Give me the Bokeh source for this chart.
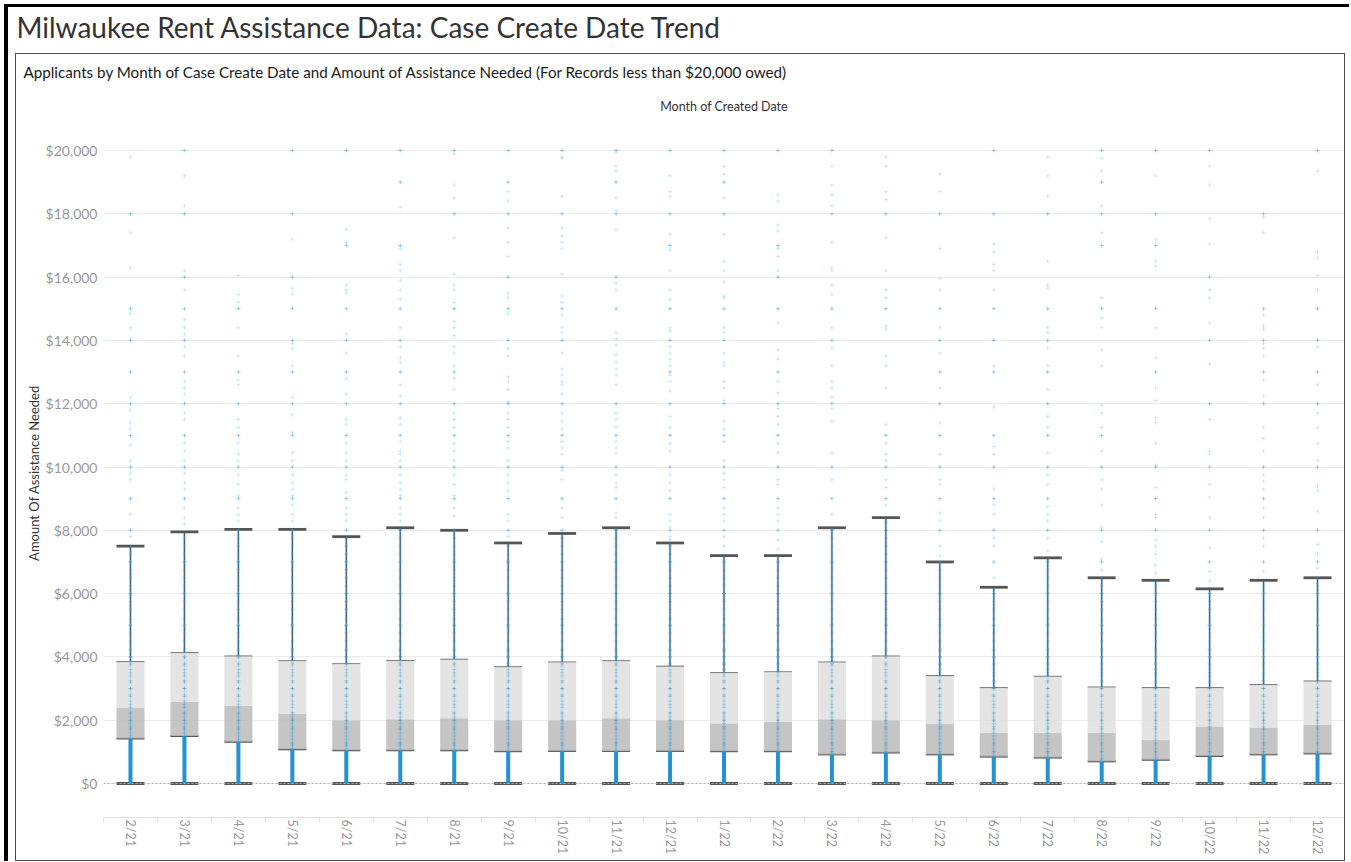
from bokeh.plotting import figure
from bokeh.models import (ColumnDataSource, FixedTicker, NumeralTickFormatter, Span,
                          Title, Range1d, Whisker, TeeHead, Spacer)
from bokeh.layouts import column, row
from bokeh.embed import file_html
from bokeh.resources import INLINE

FONT = "Lato"

MONTHS = ["2/21", "3/21", "4/21", "5/21", "6/21", "7/21", "8/21", "9/21", "10/21", "11/21",
          "12/21", "1/22", "2/22", "3/22", "4/22", "5/22", "6/22", "7/22", "8/22", "9/22",
          "10/22", "11/22", "12/22"]
WHISKER_LOW = [0, 0, 0, 0, 0, 0, 0, 0, 0, 0, 0, 0, 0, 0, 0, 0, 0, 0, 0, 0, 0, 0, 0]
Q1 = [1420, 1500, 1320, 1080, 1050, 1050, 1050, 1020, 1030, 1030, 1030, 1020, 1020,
      920, 980, 920, 850, 820, 700, 750, 870, 920, 950]
MEDIAN = [2400, 2580, 2450, 2200, 2000, 2030, 2060, 2000, 2000, 2060, 2000, 1900, 1950,
          2030, 2000, 1880, 1600, 1600, 1600, 1380, 1800, 1770, 1850]
Q3 = [3850, 4130, 4020, 3870, 3780, 3880, 3920, 3680, 3830, 3870, 3700, 3500, 3520,
      3830, 4020, 3400, 3020, 3380, 3040, 3020, 3020, 3120, 3230]
WHISKER_HIGH = [7500, 7950, 8030, 8030, 7800, 8080, 8000, 7600, 7900, 8080, 7600, 7200, 7200,
                8080, 8400, 7000, 6200, 7130, 6500, 6420, 6150, 6420, 6500]

# frequently requested amounts seen inside the whisker range of every month
COMMON_AMOUNTS = [0, 150, 300, 450, 500, 600, 750, 800, 900, 1000, 1100, 1200, 1250, 1300,
                  1400, 1500, 1600, 1700, 1750, 1800, 1900, 2000, 2100, 2200, 2250, 2400,
                  2500, 2600, 2750, 2800, 3000, 3200, 3250, 3400, 3500, 3600, 3750, 3800,
                  4000, 4200, 4250, 4500, 4750, 5000, 5200, 5500, 5750, 6000, 6250, 6500,
                  6750, 7000, 7250, 7500, 7750, 8000, 8250]

PTS_2_21 = [19800, 18000, 17400, 16300, 15000, 14850, 14400, 14000, 13000, 12200, 12000, 11800,
            11400, 11200, 11000, 10700, 10200, 10000, 9800, 9600, 9000, 8500, 8000, 7800]
PTS_3_21 = [20000, 19200, 18250, 18000, 16200, 16000, 15600, 15000, 14650, 14400, 14200, 14000,
            13800, 13500, 13000, 12700, 12500, 12300, 12000, 11700, 11500, 11000, 10750, 10500,
            10200, 10000, 9800, 9500, 9300, 9000, 8700, 8400, 8200]
PTS_4_21 = [16050, 15450, 15200, 15000, 14400, 13500, 13000, 12750, 12600, 12000, 11500, 11250,
            11000, 10750, 10400, 10200, 10000, 9750, 9450, 9100, 9000, 8700, 8500, 8300]
PTS_5_21 = [20000, 18000, 17200, 16000, 15650, 15450, 15000, 14000, 13900, 13750, 13200, 13000,
            12200, 12000, 11650, 11100, 11000, 10450, 10200, 10000, 9750, 9500, 9300, 9100,
            9000, 8800, 8500, 8300]
PTS_6_21 = [20000, 17500, 17100, 17000, 15750, 15600, 15500, 15000, 14200, 14000, 13600, 13000,
            12800, 12300, 12000, 11500, 11350, 11000, 10750, 10450, 10200, 10000, 9750, 9600,
            9200, 9000, 8700, 8500, 8300, 8000]
PTS_7_21 = [20000, 19000, 18200, 17000, 16900, 16400, 16200, 15900, 15600, 15300, 15000, 14400,
            14000, 13800, 13450, 13300, 13000, 12600, 12250, 12000, 11550, 11350, 11000, 10800,
            10500, 10400, 10200, 10000, 9750, 9500, 9300, 9100, 9000, 8700, 8500, 8300]
PTS_8_21 = [20000, 19900, 18900, 18500, 18000, 17250, 16100, 15750, 15600, 15200, 15000, 14600,
            14400, 14150, 13800, 13600, 13200, 13000, 12800, 12450, 12000, 11700, 11500, 11250,
            11000, 10750, 10500, 10200, 10000, 9750, 9450, 9100, 9000, 8700, 8450]
PTS_9_21 = [20000, 19000, 18700, 18400, 18000, 17550, 17100, 16650, 16000, 15500, 15350, 15000,
            14850, 14000, 13750, 13500, 12850, 12700, 12450, 12050, 12000, 11700, 11500, 11250,
            11000, 10800, 10600, 10200, 10000, 9750, 9500, 9250, 9000, 8500, 8300, 8000, 7800]
PTS_10_21 = [20000, 19800, 19750, 18550, 18000, 17550, 17300, 17100, 16900, 16100, 15400, 15200,
             15000, 14800, 14400, 14250, 14000, 13600, 13100, 12900, 12700, 12600, 12300, 12000,
             11700, 11450, 11200, 11000, 10800, 10600, 10400, 10000, 9900, 9600, 9000, 8700,
             8400, 8000]
PTS_11_21 = [20000, 19950, 19500, 19350, 19000, 18500, 18100, 18000, 17500, 16000, 15800, 15600,
             15000, 14250, 14050, 13850, 13550, 13300, 13100, 12900, 12600, 12000, 11700, 11500,
             11250, 11000, 10800, 10600, 10450, 10000, 9750, 9500, 9350, 9000, 8550, 8400]
PTS_12_21 = [20000, 19200, 18700, 18550, 18000, 17350, 17000, 16850, 16200, 15600, 15300, 15000,
             14400, 14300, 14000, 13800, 13600, 13400, 13200, 13000, 12900, 12700, 12400, 12000,
             11600, 11250, 11000, 10750, 10500, 10000, 9750, 9500, 9250, 9000, 8500, 8300, 8100,
             8000, 7800, 7700]
PTS_1_22 = [20000, 19500, 19250, 19000, 18500, 18000, 17350, 16500, 16200, 15850, 15400, 15350,
            15000, 14400, 14250, 14000, 13600, 13300, 13200, 12700, 12500, 12100, 12000, 11450,
            11200, 11000, 10800, 10200, 10000, 9800, 9600, 9350, 9000, 8700, 8500, 8300, 8000,
            7800, 7500]
PTS_2_22 = [20000, 18600, 18400, 17650, 17450, 17000, 16900, 16650, 16200, 16000, 15000, 14550,
            13700, 13400, 13000, 12700, 12350, 12000, 11850, 11600, 11350, 11000, 10750, 10450,
            10000, 9600, 9450, 9000, 8700, 8500, 8300, 8000, 7700, 7400]
PTS_3_22 = [20000, 19500, 18900, 18600, 18250, 18000, 17100, 16300, 16200, 15750, 15450, 15000,
            14400, 14000, 13750, 13200, 12700, 12500, 12200, 12000, 11850, 11450, 10450, 10000,
            9600, 9000, 8500]
PTS_4_22 = [19800, 19500, 18700, 18450, 18000, 17250, 16200, 15600, 15350, 15000, 14450, 14350,
            13500, 13200, 12500, 11350, 11000, 10750, 10400, 10200, 10000, 9600, 9350, 9000, 8800]
PTS_5_22 = [19250, 18700, 18000, 16900, 15950, 15600, 15000, 14400, 14000, 13600, 13000, 12500,
            12000, 11400, 11000, 10400, 10000, 9600, 9450, 9000, 8550, 8300, 8000, 7500, 7200]
PTS_6_22 = [20000, 18000, 17050, 16800, 16400, 16200, 15600, 15000, 14000, 13200, 13000, 11900,
            11000, 10650, 10400, 10000, 9300, 9000, 8800, 8500, 8000, 7750, 7500, 7000, 6500]
PTS_7_22 = [19800, 19200, 18550, 18000, 16500, 15750, 15650, 15000, 14400, 14250, 14000, 13750,
            13200, 13000, 12450, 12000, 11600, 11250, 11000, 10450, 10000, 9750, 9450, 9000,
            8750, 8500, 8300, 8000, 7750, 7350]
PTS_8_22 = [20000, 19750, 19350, 19000, 18250, 18000, 17400, 17000, 15350, 15000, 14700, 14400,
            13700, 13200, 11950, 11700, 11250, 11000, 10500, 10000, 9600, 9300, 8800, 8100, 8000,
            7650, 7100, 7000, 6750]
PTS_9_22 = [20000, 19200, 18000, 17200, 17000, 16500, 16350, 15000, 14400, 13450, 13000, 12500,
            12100, 11550, 11400, 10750, 10050, 10000, 9350, 9000, 8500, 8400, 8000, 7700, 7500,
            7250, 6900, 6650]
PTS_10_22 = [20000, 19500, 18900, 17850, 17050, 16000, 15600, 15350, 14550, 14000, 13250, 12000,
             11500, 10500, 10400, 10000, 9450, 9050, 8400, 8000, 7450, 7000, 6700, 6400]
PTS_11_22 = [18000, 17900, 17400, 15000, 14800, 14450, 14350, 14000, 13900, 13750, 13500, 13000,
             12750, 12250, 12000, 11250, 10900, 10500, 10000, 9750, 9550, 9300, 9000, 8700, 8400,
             8000, 7750, 7500, 7000, 6700]
PTS_12_22 = [20000, 19350, 16800, 16600, 16050, 15600, 15000, 14000, 13800, 13000, 12600, 12000,
             11700, 11250, 10750, 10200, 10000, 9400, 9250, 8600, 8000, 7550, 7250, 7000, 6800]

OUTLIER_LISTS = [PTS_2_21, PTS_3_21, PTS_4_21, PTS_5_21, PTS_6_21, PTS_7_21, PTS_8_21, PTS_9_21,
                 PTS_10_21, PTS_11_21, PTS_12_21, PTS_1_22, PTS_2_22, PTS_3_22, PTS_4_22,
                 PTS_5_22, PTS_6_22, PTS_7_22, PTS_8_22, PTS_9_22, PTS_10_22, PTS_11_22, PTS_12_22]

BLUE = "#1a8fd2"
DOT = "#2b9bdb"
DARK = "#555555"

idx = list(range(len(MONTHS)))
box_src = ColumnDataSource(dict(x=idx, q1=Q1, med=MEDIAN, q3=Q3, lo=WHISKER_LOW, hi=WHISKER_HIGH))

px, py, pa = [], [], []
for i, vals in enumerate(OUTLIER_LISTS):
    for v in vals:
        px.append(i)
        py.append(v)
        pa.append(0.45 if v % 1000 == 0 else 0.2)
out_src = ColumnDataSource(dict(x=px, y=py, a=pa))

ix, iy, ia = [], [], []
for i in idx:
    for v in COMMON_AMOUNTS:
        if v <= WHISKER_HIGH[i]:
            ix.append(i)
            iy.append(v)
            ia.append(0.6 if v % 1000 == 0 else 0.3)
in_src = ColumnDataSource(dict(x=ix, y=iy, a=ia))

p = figure(width=1330, height=808, toolbar_location=None, output_backend="svg",
           x_range=Range1d(-0.5, len(MONTHS) - 0.5), y_range=Range1d(-1074, 20695),
           min_border_left=87, min_border_right=2, min_border_top=74, min_border_bottom=45,
           styles={"border": "1px solid #4d4d4d"})
p.outline_line_color = None
p.xgrid.grid_line_color = None
p.ygrid.grid_line_color = "#ececec"
p.ygrid.grid_line_width = 1
p.ygrid.ticker = FixedTicker(ticks=list(range(0, 20001, 2000)))

p.title.text = "Applicants by Month of Case Create Date and Amount of Assistance Needed (For Records less than $20,000 owed)"
p.title.text_font = FONT
p.title.text_font_size = "15.2px"
p.title.text_font_style = "normal"
p.title.text_color = "#1a1a1a"
p.title.align = "left"
p.title.offset = -80
p.title.standoff = 4
p.add_layout(Title(text="Month of Created Date", text_font=FONT, text_font_size="12.5px",
                   text_font_style="normal", text_color="#333333", align="center",
                   standoff=29), "above")

# y axis
yax = p.yaxis[0]
yax.ticker = FixedTicker(ticks=list(range(0, 20001, 2000)))
yax.formatter = NumeralTickFormatter(format="$0,0")
yax.axis_line_color = None
yax.major_tick_line_color = None
yax.minor_tick_line_color = None
yax.major_tick_out = 0
yax.major_label_text_color = "#999999"
yax.major_label_text_font = FONT
yax.major_label_text_font_size = "14px"
yax.major_label_standoff = 6
yax.axis_label = "Amount Of Assistance Needed"
yax.axis_label_text_font = FONT
yax.axis_label_text_font_size = "13px"
yax.axis_label_text_font_style = "normal"
yax.axis_label_text_color = "#333333"
yax.axis_label_standoff = 1

# x axis
xax = p.xaxis[0]
xax.ticker = FixedTicker(ticks=idx, minor_ticks=[i - 0.5 for i in idx] + [len(MONTHS) - 0.5])
xax.major_label_overrides = {i: m for i, m in enumerate(MONTHS)}
xax.major_label_orientation = "vertical"
xax.major_tick_line_color = None
xax.major_tick_out = 0
xax.major_tick_in = 0
xax.minor_tick_out = 5
xax.minor_tick_in = 0
xax.minor_tick_line_color = "#e3e3e3"
xax.axis_line_color = "#e3e3e3"
xax.major_label_text_color = "#999999"
xax.major_label_text_font = FONT
xax.major_label_text_font_size = "12.5px"
xax.major_label_standoff = -3

# dense mass of applications below the lower quartile and along the whisker
p.segment(x0="x", x1="x", y0="lo", y1="q1", source=box_src, line_color=BLUE, line_width=4,
          line_alpha=0.95)
p.segment(x0="x", x1="x", y0="q1", y1="hi", source=box_src, line_color=BLUE, line_width=3,
          line_alpha=0.22)

# boxes
p.vbar(x="x", width=0.52, bottom="q1", top="med", source=box_src, fill_color="#bdbdbd",
       fill_alpha=0.88, line_color=None)
p.vbar(x="x", width=0.52, bottom="med", top="q3", source=box_src, fill_color="#e0e0e0",
       fill_alpha=0.88, line_color=None)

p.scatter(x="x", y="y", source=in_src, marker="cross", size=4, line_color=DOT,
          line_alpha="a", line_width=1)

zero = Span(location=0, dimension="width", line_color="#b5b5b5", line_dash="2 2", line_width=1)
p.add_layout(zero)

upper = Whisker(source=box_src, base="x", lower="q3", upper="hi", line_color=DARK, line_width=1.3,
                lower_head=TeeHead(size=28, line_color="#666666", line_width=1.5),
                upper_head=TeeHead(size=28, line_color=DARK, line_width=2.8))
lower = Whisker(source=box_src, base="x", lower="lo", upper="q1", line_color=DARK, line_width=1.1,
                lower_head=TeeHead(size=28, line_color=DARK, line_width=3.2),
                upper_head=TeeHead(size=28, line_color=DARK, line_width=2))
p.add_layout(upper)
p.add_layout(lower)

p.scatter(x="x", y="y", source=out_src, marker="cross", size=4, line_color=DOT,
          line_alpha="a", line_width=1)

# heading above the panel
head = figure(width=1337, height=43, toolbar_location=None, output_backend="svg",
              x_range=Range1d(0, 1), y_range=Range1d(0, 1),
              x_axis_location=None, y_axis_location=None,
              min_border_left=0, min_border_right=0, min_border_top=0, min_border_bottom=0)
head.grid.visible = False
head.outline_line_color = None
head.title.text = "Milwaukee Rent Assistance Data: Case Create Date Trend"
head.title.text_font = FONT
head.title.text_font_size = "28px"
head.title.text_font_style = "normal"
head.title.text_color = "#333333"
head.title.offset = 8
head.title.standoff = 0

BLACK = {"background-color": "#000000"}
layout = column(
    Spacer(width=1346, height=4),
    row(Spacer(width=4, height=3), Spacer(width=1345, height=3, styles=BLACK)),
    row(Spacer(width=4, height=43), Spacer(width=4, height=43, styles=BLACK), head),
    row(Spacer(width=4, height=3), Spacer(width=4, height=3, styles=BLACK)),
    row(Spacer(width=4, height=808), Spacer(width=4, height=808, styles=BLACK),
        Spacer(width=7, height=10), p),
)

with open("out.html", "w") as f:
    f.write(file_html(layout, INLINE))
